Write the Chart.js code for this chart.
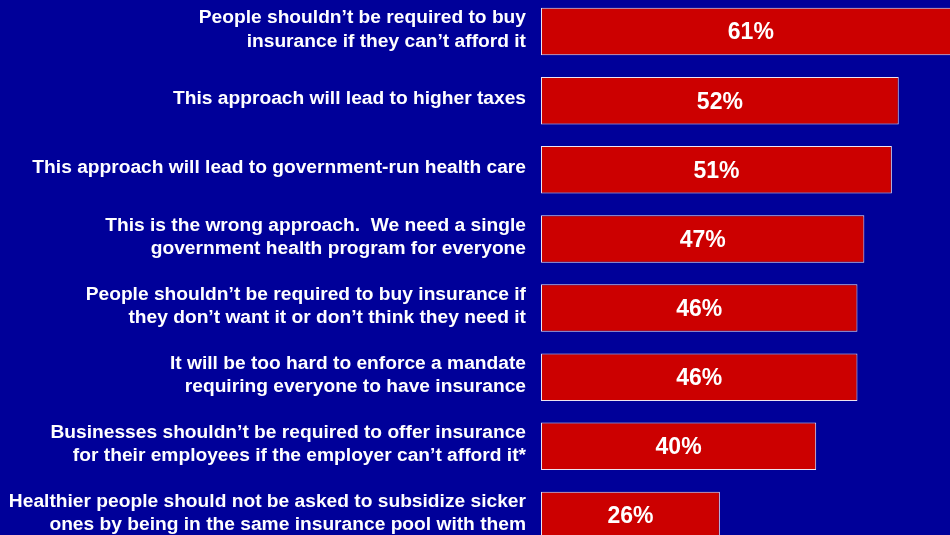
<!DOCTYPE html>
<html>
<head>
<meta charset="utf-8">
<script src="https://cdn.jsdelivr.net/npm/chart.js@4"></script>
<style>
  html, body { margin: 0; padding: 0; background: #000099; overflow: hidden; }
  #wrap { position: absolute; left: 0; top: -3px; width: 950px; height: 553px; }
</style>
</head>
<body>
<div id="wrap"><canvas id="chartRazones"></canvas></div>
<script>
const categorias = [
  ['People shouldn’t be required to buy', 'insurance if they can’t afford it'],
  'This approach will lead to higher taxes',
  'This approach will lead to government-run health care',
  ['This is the wrong approach.  We need a single', 'government health program for everyone'],
  ['People shouldn’t be required to buy insurance if', 'they don’t want it or don’t think they need it'],
  ['It will be too hard to enforce a mandate', 'requiring everyone to have insurance'],
  ['Businesses shouldn’t be required to offer insurance', 'for their employees if the employer can’t afford it*'],
  ['Healthier people should not be asked to subsidize sicker', 'ones by being in the same insurance pool with them']
];
const valores = [61, 52, 51, 47, 46, 46, 40, 26];

// etiquetas de porcentaje centradas en cada barra
const etiquetasBarras = {
  id: 'etiquetasBarras',
  afterDatasetsDraw(chart) {
    const c = chart.ctx;
    const meta = chart.getDatasetMeta(0);
    c.save();
    c.fillStyle = '#ffffff';
    c.font = 'bold 23px "Liberation Sans", Arial, sans-serif';
    c.textAlign = 'center';
    c.textBaseline = 'middle';
    meta.data.forEach((bar, i) => {
      c.fillText(valores[i] + '%', (bar.x + bar.base) / 2, bar.y + 1.5);
    });
    c.restore();
  }
};

const ctx = document.getElementById('chartRazones');

new Chart(ctx, {
  type: 'bar',
  data: {
    labels: categorias,
    datasets: [{
      data: valores,
      backgroundColor: '#cc0000',
      borderColor: '#ece4f0',
      borderWidth: 1,
      borderSkipped: false,
      barPercentage: 0.687,
      categoryPercentage: 1
    }]
  },
  options: {
    indexAxis: 'y',
    responsive: true,
    maintainAspectRatio: false,
    animation: false,
    layout: { padding: 0 },
    plugins: {
      legend: { display: false },
      tooltip: { enabled: false }
    },
    scales: {
      x: {
        display: false,
        min: 0,
        max: 59.45
      },
      y: {
        grid: { display: false, drawTicks: false },
        border: { display: false },
        afterFit(scale) {
          scale.width = 541;
          scale.paddingTop = 0;
          scale.paddingBottom = 0;
        },
        ticks: {
          autoSkip: false,
          color: '#ffffff',
          padding: 15,
          labelOffset: -2,
          font: { family: '"Liberation Sans", Arial, sans-serif', size: 19.2, weight: 'bold', lineHeight: 1.22 }
        }
      }
    }
  },
  plugins: [etiquetasBarras]
});
</script>
</body>
</html>
